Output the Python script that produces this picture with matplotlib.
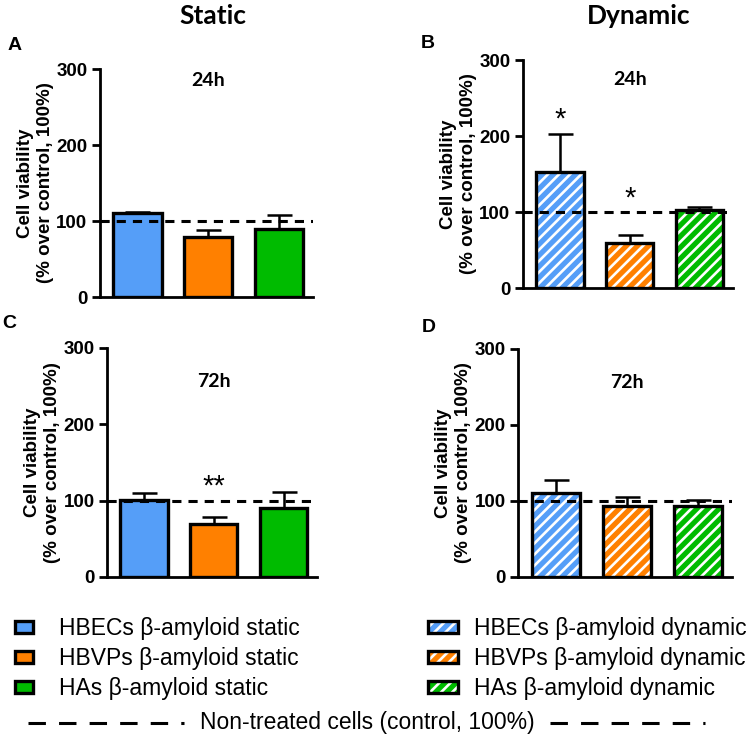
import numpy as np
import matplotlib
matplotlib.use("Agg")
import matplotlib.pyplot as plt
from matplotlib.patches import Patch
from matplotlib.lines import Line2D
from matplotlib.legend_handler import HandlerTuple

plt.rcParams['hatch.linewidth'] = 1.9
plt.rcParams['font.family'] = ['Liberation Sans', 'DejaVu Sans']

# === Données (viabilité cellulaire, % du contrôle) ===
cells = ["HBECs", "HBVPs", "HAs"]
colors = ["#559ef8", "#ff8000", "#00bb00"]

static_24 = [110, 79, 90]
static_24_err = [2, 9, 18]
dynamic_24 = [153, 59, 102]
dynamic_24_err = [50, 11, 4]
static_72 = [101, 70, 90]
static_72_err = [9, 9, 21]
dynamic_72 = [111, 93, 94]
dynamic_72_err = [17, 12, 7]

# significativité : (index barre, texte) par panneau
stars = {"B": [(0, "*"), (1, "*")], "C": [(1, "**")]}

control = 100
yticks = [0, 100, 200, 300]

panels = {
    "A": dict(vals=static_24, err=static_24_err, hatch=False, time="24h",
              pos=[0.1333, 0.5986, 0.284, 0.3081], tpos=285, lpos=(0.010, 0.938)),
    "B": dict(vals=dynamic_24, err=dynamic_24_err, hatch=True, time="24h",
              pos=[0.6973, 0.6108, 0.280, 0.3081], tpos=274, lpos=(0.561, 0.941)),
    "C": dict(vals=static_72, err=static_72_err, hatch=False, time="72h",
              pos=[0.1427, 0.2203, 0.280, 0.3095], tpos=256, lpos=(0.003, 0.563)),
    "D": dict(vals=dynamic_72, err=dynamic_72_err, hatch=True, time="72h",
              pos=[0.6907, 0.2203, 0.2853, 0.3081], tpos=256, lpos=(0.563, 0.557)),
}

fig = plt.figure(figsize=(7.5, 7.4), dpi=100)

x = np.arange(len(cells))
bw = 0.68
for name, p in panels.items():
    ax = fig.add_axes(p["pos"])
    if p["hatch"]:
        ax.bar(x, p["vals"], bw, color=colors, edgecolor="white", hatch="///",
               linewidth=0, zorder=2)
        ax.bar(x, p["vals"], bw, fill=False, edgecolor="black", linewidth=2.4, zorder=3)
    else:
        ax.bar(x, p["vals"], bw, color=colors, edgecolor="black", linewidth=2.4, zorder=3)
    ax.errorbar(x, p["vals"], yerr=[[0] * 3, p["err"]], fmt="none", ecolor="black",
                elinewidth=1.8, capsize=9, capthick=1.8, zorder=2)
    ax.axhline(control, color="black", linewidth=2.2, dashes=(3, 2.3), zorder=4)

    for i, s in stars.get(name, []):
        top = max(p["vals"][i] + p["err"][i], control)
        ax.text(x[i], top + 18, s, ha="center", va="center", fontsize=21)

    ax.text(1, p["tpos"], p["time"], ha="center", va="center", fontsize=14,
            fontweight="bold", family=["Lato", "DejaVu Sans"])

    ax.set_xlim(-0.53, 2.48)
    ax.set_ylim(0, 300)
    ax.set_yticks(yticks)
    ax.set_xticks([])
    for sp in ["top", "right"]:
        ax.spines[sp].set_visible(False)
    for sp in ["left", "bottom"]:
        ax.spines[sp].set_linewidth(2)
    ax.tick_params(axis="y", width=2, length=6, labelsize=13.5, pad=3)
    for lab in ax.get_yticklabels():
        lab.set_fontweight("bold")
    ax.set_ylabel("Cell viability\n(% over control, 100%)", fontsize=13.5,
                  fontweight="bold", labelpad=2, linespacing=1.2)
    fig.text(p["lpos"][0], p["lpos"][1], name, fontsize=14, fontweight="bold",
             va="center")

fig.text(0.284, 0.979, "Static", ha="center", va="center", fontsize=19,
         fontweight="bold", family=["Lato", "DejaVu Sans"])
fig.text(0.851, 0.979, "Dynamic", ha="center", va="center", fontsize=19,
         fontweight="bold", family=["Lato", "DejaVu Sans"])

# === Légende ===
static_handles = [Patch(facecolor=c, edgecolor="black", linewidth=2.4) for c in colors]
static_labels = [f"{c} β-amyloid static" for c in cells]
fig.legend(static_handles, static_labels, loc="upper left",
           bbox_to_anchor=(0.02, 0.166), frameon=False, fontsize=16.5,
           handlelength=0.8, handleheight=0.4, handletextpad=1.1,
           labelspacing=0.3, borderpad=0, borderaxespad=0)

dyn_handles = [(Patch(facecolor=c, edgecolor="white", hatch="///", linewidth=0),
                Patch(fill=False, edgecolor="black", linewidth=2.4)) for c in colors]
dyn_labels = [f"{c} β-amyloid dynamic" for c in cells]
fig.legend(dyn_handles, dyn_labels, loc="upper left",
           bbox_to_anchor=(0.571, 0.166), frameon=False, fontsize=16.5,
           handlelength=1.3, handleheight=0.4, handletextpad=0.7,
           labelspacing=0.3, borderpad=0, borderaxespad=0,
           handler_map={tuple: HandlerTuple(ndivide=1, pad=0)})

y_ctrl = 1 - 723 / 740
fig.add_artist(Line2D([0.037, 0.245], [y_ctrl, y_ctrl], color="black",
                      linewidth=2.2, dashes=(5.7, 4.3)))
fig.add_artist(Line2D([0.733, 0.94], [y_ctrl, y_ctrl], color="black",
                      linewidth=2.2, dashes=(5.7, 4.3)))
fig.text(0.49, y_ctrl, "Non-treated cells (control, 100%)", ha="center",
         va="center", fontsize=16.5)

fig.savefig("out.png", dpi=100)
